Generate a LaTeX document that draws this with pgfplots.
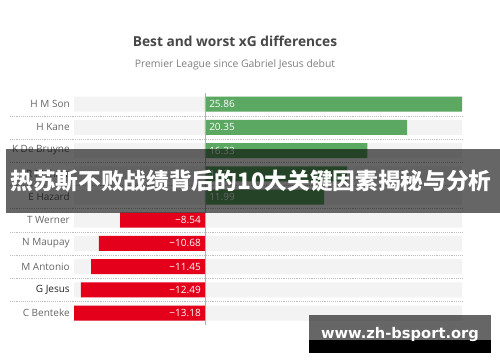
\documentclass[border=0pt]{standalone}
\usepackage{pgfplots}
\pgfplotsset{compat=1.18}
\usepackage{fontspec}
\setmainfont{Open Sans}
\newfontfamily\cjk{Noto Sans CJK SC}
\newfontfamily\wm{DejaVu Sans}
\definecolor{sgreen}{HTML}{5AA862}
\definecolor{sred}{HTML}{E4001B}
\definecolor{rowgray}{HTML}{F3F3F3}
\definecolor{labgray}{HTML}{666666}
\begin{document}
\begin{tikzpicture}[x=0.75pt,y=0.75pt]
\path[use as bounding box] (0,0) rectangle (500,362);
\fill[white] (0,0) rectangle (500,362);
\node[font=\bfseries\fontsize{10.3}{12}\selectfont, text=black!72] at (235,321) {Best and worst xG differences};
\node[font=\fontsize{7.8}{9}\selectfont, text=black!50] at (235,297) {Premier League since Gabriel Jesus debut};
\begin{axis}[
  at={(55.5pt,28.05pt)}, anchor=south west,
  width=291pt, height=174pt, scale only axis,
  xmin=-13.18, xmax=25.86, ymin=-0.5, ymax=9.5,
  axis line style={draw=none}, major tick length=0pt,
  xtick=\empty,
  ytick={0,...,9},
  yticklabels={C Benteke,\textcolor{black!85}{G Jesus},M Antonio,N Maupay,T Werner,E Hazard,R Mahrez,K De Bruyne,H Kane,H M Son},
  yticklabel style={font=\fontsize{7.5}{9}\selectfont, text=labgray, inner sep=0pt, xshift=-3pt},
  clip=false,
]
\addplot[xbar, fill=rowgray, draw=none, bar width=11.25pt, bar shift=0pt] coordinates {
(25.86,0) (25.86,1) (25.86,2) (25.86,3) (25.86,4) (25.86,5) (25.86,6) (25.86,7) (25.86,8) (25.86,9)};
\addplot[xbar, fill=rowgray, draw=none, bar width=11.25pt, bar shift=0pt] coordinates {
(-13.18,0) (-13.18,1) (-13.18,2) (-13.18,3) (-13.18,4) (-13.18,5) (-13.18,6) (-13.18,7) (-13.18,8) (-13.18,9)};
\pgfplotsinvokeforeach{0,...,8}{
  \draw[densely dotted, black!25] ([xshift=-48pt]axis cs:-13.18,#1+0.5) -- (axis cs:25.86,#1+0.5);
}
\addplot[xbar, fill=sgreen, draw=none, bar width=11.25pt, bar shift=0pt] coordinates {
(25.86,9) (20.35,8) (16.33,7) (14.3,6) (11.99,5)};
\addplot[xbar, fill=sred, draw=none, bar width=11.25pt, bar shift=0pt] coordinates {
(-8.54,4) (-10.68,3) (-11.45,2) (-12.49,1) (-13.18,0)};
\draw[black!30] (axis cs:0,-0.5) -- (axis cs:0,9.5);
\addplot[draw=none, nodes near coords, point meta=explicit symbolic,
  nodes near coords style={anchor=west, text=white, font=\fontsize{7.5}{9}\selectfont, inner sep=0pt, xshift=3pt}]
  coordinates {(0,9) [25.86] (0,8) [20.35] (0,7) [16.33] (0,6) [14.3] (0,5) [11.99]};
\addplot[draw=none, nodes near coords, point meta=explicit symbolic,
  nodes near coords style={anchor=east, text=white, font=\fontsize{7.5}{9}\selectfont, inner sep=0pt, xshift=-3pt}]
  coordinates {(0,4) [−8.54] (0,3) [−10.68] (0,2) [−11.45] (0,1) [−12.49] (0,0) [−13.18]};
\end{axis}
\fill[black, opacity=0.6] (6,149) rectangle (500,213);
\node[text=white, font=\cjk\bfseries\fontsize{17}{20}\selectfont, inner sep=0pt] at (251,181) {热苏斯不败战绩背后的10大关键因素揭秘与分析};
\fill[black, opacity=0.6] (309,22) rectangle (491,47);
\fill[black] (309,9) rectangle (491,22);
\node[text=white, font=\wm\bfseries\fontsize{11}{13}\selectfont, inner sep=0pt] at (400,27) {www.zh-bsport.org};
\end{tikzpicture}
\end{document}
